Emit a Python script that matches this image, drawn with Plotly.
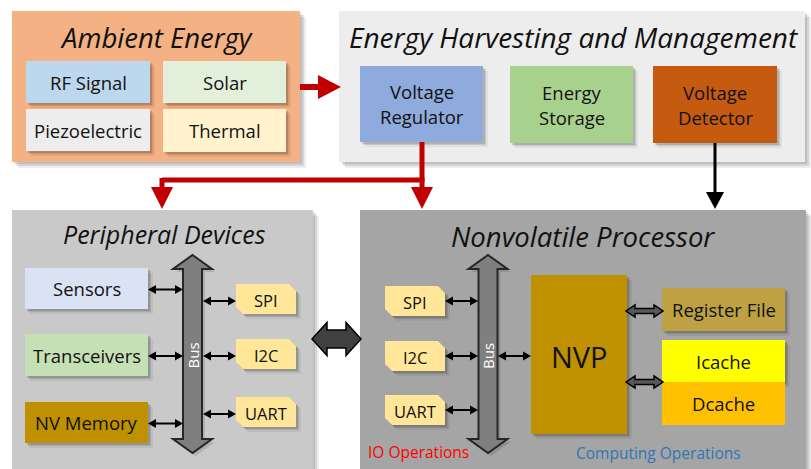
import plotly.graph_objects as go

# ---------------- content ----------------
group_titles = ["Ambient Energy", "Energy Harvesting and Management",
                "Peripheral Devices", "Nonvolatile Processor"]
ambient_labels = ["RF Signal", "Solar", "Piezoelectric", "Thermal"]
harvest_labels = ["Voltage\nRegulator", "Energy\nStorage", "Voltage\nDetector"]
peripheral_labels = ["Sensors", "Transceivers", "NV Memory"]
interface_labels = ["SPI", "I2C", "UART"]
core_label = "NVP"
memory_labels = ["Register File", "Icache", "Dcache"]
bus_label = "Bus"
operation_labels = ["IO Operations", "Computing Operations"]

# ---------------- layout (pixels) ----------------
W, H = 811, 469
FONT = "Open Sans"
TXT = "#111111"
BODY = 18.5

groups = [  # x0, y0, x1, y1, fill, title centre y, title size
    (12, 11, 300, 162, "#F4B183", 37, 27.5),
    (339, 11, 805, 162, "#EDEDED", 37, 28),
    (12, 210, 313, 472, "#C9C9C9", 234, 25),
    (360, 210, 806, 472, "#A5A5A5", 236, 27.5),
]
ambient_boxes = [(26, 61, 150, 103, "#BDD7EE"), (163, 61, 286, 103, "#E2EFDA"),
                 (26, 109, 150, 151, "#EDEDED"), (163, 109, 286, 152, "#FFF2CC")]
harvest_boxes = [(360, 66, 483, 142, "#8FAADC"), (510, 66, 633, 143, "#A9D18E"),
                 (653, 66, 777, 143, "#C55A11")]
peripheral_boxes = [(25, 268, 148, 309, "#DAE3F3"), (25, 334, 148, 376, "#C5E0B4"),
                    (25, 402, 148, 443, "#BF9000")]
periph_if = [(236, 284, 296, 314), (236, 339, 296, 369), (236, 397, 296, 427)]
proc_if = [(385, 286, 445, 316), (385, 341, 445, 371), (385, 395, 445, 425)]
nvp_box = (531, 275, 627, 434, "#BF9000")
memory_boxes = [(662, 288, 785, 331, "#BDA142"), (662, 340, 785, 382, "#FFFF00"),
                (662, 382, 785, 425, "#FFC000")]

shapes, annots = [], []


def rect(x0, y0, x1, y1, fill, shadow=True, big=False):
    if shadow:
        steps = [(2, 0.10), (4, 0.10), (6, 0.07)] if big else [(2, 0.12), (3, 0.10), (5, 0.06)]
        for d, a in steps:
            shapes.append(dict(type="rect", x0=x0 + d, y0=y0 + d, x1=x1 + d, y1=y1 + d,
                               fillcolor=f"rgba(0,0,0,{a})", line=dict(width=0)))
    shapes.append(dict(type="rect", x0=x0, y0=y0, x1=x1, y1=y1,
                       fillcolor=fill, line=dict(width=0)))


def poly(pts, fill, lc=None, lw=0):
    p = "M " + " L ".join(f"{x},{y}" for x, y in pts) + " Z"
    shapes.append(dict(type="path", path=p, fillcolor=fill,
                       line=dict(color=lc or fill, width=lw)))


def text(x, y, s, size, color=TXT, italic=False, angle=0):
    if italic:
        s = f"<i>{s}</i>"
    annots.append(dict(x=x, y=y, text=s, showarrow=False, textangle=angle,
                       font=dict(family=FONT, size=size, color=color),
                       xanchor="center", yanchor="middle"))


def box_text(b, label, size=BODY, dy=0):
    x0, y0, x1, y1 = b[:4]
    lines = label.split("\n")
    cx, cy = (x0 + x1) / 2, (y0 + y1) / 2 + dy
    n = len(lines)
    for i, ln in enumerate(lines):
        text(cx, cy + (i - (n - 1) / 2) * 25, ln, size)


def snip(x0, y0, x1, y1, fill, c=7):
    for d, a in [(2, 0.12), (3, 0.10), (5, 0.06)]:
        poly([(x0 + d, y0 + d), (x1 - c + d, y0 + d), (x1 + d, y0 + c + d), (x1 + d, y1 + d),
              (x0 + c + d, y1 + d), (x0 + d, y1 - c + d)], f"rgba(0,0,0,{a})")
    poly([(x0, y0), (x1 - c, y0), (x1, y0 + c), (x1, y1), (x0 + c, y1), (x0, y1 - c)], fill)


def small_arrow(x0, x1, y, both=True, hl=8, hw=4.5):
    a = x0 + (hl if both else 0)
    shapes.append(dict(type="line", x0=a, x1=x1 - hl, y0=y, y1=y,
                       line=dict(color="black", width=2)))
    poly([(x1, y), (x1 - hl, y - hw), (x1 - hl, y + hw)], "black")
    if both:
        poly([(x0, y), (x0 + hl, y - hw), (x0 + hl, y + hw)], "black")


def fat_arrow(x0, x1, y, hl, hh, bh, fill, lc, lw):
    poly([(x0, y), (x0 + hl, y - hh), (x0 + hl, y - bh), (x1 - hl, y - bh), (x1 - hl, y - hh),
          (x1, y), (x1 - hl, y + hh), (x1 - hl, y + bh), (x0 + hl, y + bh), (x0 + hl, y + hh)],
         fill, lc, lw)


def bus(cx, top, bot):
    hw, bw, hl = 19.5, 9.5, 14
    pts = [(cx, top), (cx + hw, top + hl), (cx + bw, top + hl), (cx + bw, bot - hl),
           (cx + hw, bot - hl), (cx, bot), (cx - hw, bot - hl), (cx - bw, bot - hl),
           (cx - bw, top + hl), (cx - hw, top + hl)]
    poly([(x + 3, y + 3) for x, y in pts], "rgba(0,0,0,0.12)")
    poly(pts, "#7F7F7F", "#262626", 2)
    text(cx, (top + bot) / 2 + 2, bus_label, 15, "white", angle=-90)


# ---------------- draw groups ----------------
for g in groups:
    rect(*g[:5], big=True)

# ambient energy
text((groups[0][0] + groups[0][2]) / 2, groups[0][5], group_titles[0], groups[0][6], italic=True)
for b, lab in zip(ambient_boxes, ambient_labels):
    rect(*b)
    box_text(b, lab)

# energy harvesting
text((groups[1][0] + groups[1][2]) / 2 + 2, groups[1][5], group_titles[1], groups[1][6], italic=True)
for b, lab in zip(harvest_boxes, harvest_labels):
    rect(*b)
    box_text(b, lab)

# peripheral devices
text((groups[2][0] + groups[2][2]) / 2 + 2, groups[2][5], group_titles[2], groups[2][6], italic=True)
for b, lab in zip(peripheral_boxes, peripheral_labels):
    rect(*b)
    box_text(b, lab)
for b, lab in zip(periph_if, interface_labels):
    snip(*b, "#FFE699")
    box_text(b, lab, 16.5, 1)
bus(192.5, 255, 453)
for b in peripheral_boxes:
    small_arrow(b[2], 183, (b[1] + b[3]) / 2 + 1)
for b in periph_if:
    small_arrow(203, b[0], (b[1] + b[3]) / 2 + 2)

# nonvolatile processor
text((groups[3][0] + groups[3][2]) / 2 + 0, groups[3][5], group_titles[3], groups[3][6], italic=True)
for b, lab in zip(proc_if, interface_labels):
    snip(*b, "#FFE699")
    box_text(b, lab, 16.5, 1)
bus(488, 255, 453)
for b in proc_if:
    small_arrow(b[2], 478, (b[1] + b[3]) / 2)
rect(*nvp_box)
box_text(nvp_box, core_label, 29, 2)
small_arrow(498, 531, 356)
for b, lab in zip(memory_boxes, memory_labels):
    rect(*b, shadow=(lab != "Dcache"))
for b, lab in zip(memory_boxes, memory_labels):
    box_text(b, lab)
fat_arrow(626, 663, 311, 9, 6, 2.5, "#595959", "black", 1.5)
fat_arrow(626, 663, 382, 9, 6, 2.5, "#595959", "black", 1.5)

text(418, 452, operation_labels[0], 15.5, "#FF0000")
text(658, 453, operation_labels[1], 15.5, "#2E75B6")

# big link between peripheral and processor
fat_arrow(312, 361, 339, 15, 16.5, 9, "#404040", "black", 1.5)

# power connections
RED = "#C00000"
shapes.append(dict(type="line", x0=300, x1=321, y0=87, y1=87, line=dict(color=RED, width=6)))
poly([(341, 87), (318, 75), (318, 99)], RED)
vr_cx = 422
shapes.append(dict(type="line", x0=vr_cx, x1=vr_cx, y0=142, y1=190, line=dict(color=RED, width=5)))
shapes.append(dict(type="line", x0=162, x1=vr_cx + 2.5, y0=180, y1=180, line=dict(color=RED, width=5)))
shapes.append(dict(type="line", x0=162, x1=162, y0=178, y1=190, line=dict(color=RED, width=5)))
poly([(151, 187), (173, 187), (162, 209)], RED)
poly([(vr_cx - 11, 187), (vr_cx + 11, 187), (vr_cx, 209)], RED)
shapes.append(dict(type="line", x0=715, x1=715, y0=143, y1=196, line=dict(color="black", width=3)))
poly([(706, 192), (724, 192), (715, 209)], "black")

fig = go.Figure()
fig.update_layout(
    width=W, height=H, margin=dict(l=0, r=0, t=0, b=0),
    paper_bgcolor="white", plot_bgcolor="white",
    xaxis=dict(range=[0, W], visible=False, fixedrange=True),
    yaxis=dict(range=[H, 0], visible=False, fixedrange=True),
    shapes=shapes, annotations=annots, showlegend=False,
)
fig.write_html("out.html", config={"displayModeBar": False},
               post_script="document.body.style.margin='0';document.body.style.overflow='hidden';")
